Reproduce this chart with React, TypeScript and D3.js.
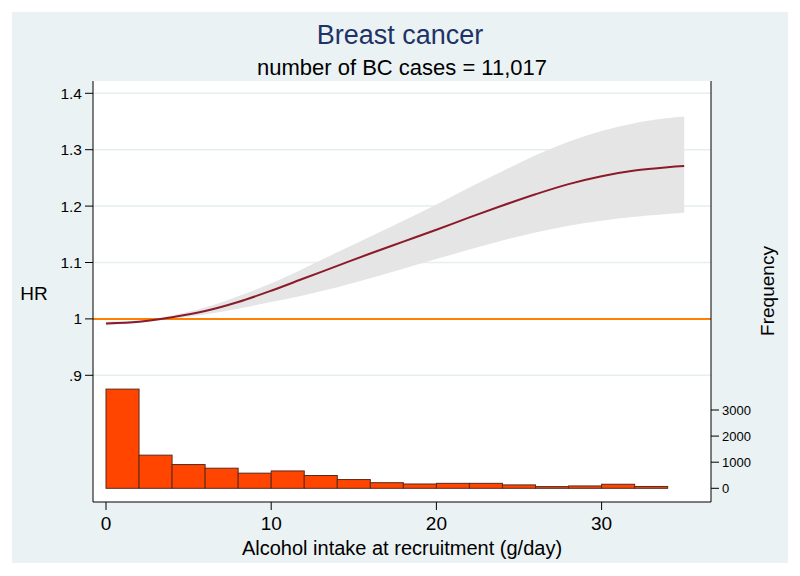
import React from "react";
import * as d3 from "d3";

// ---- data ----
const alcohol = [0, 2, 4, 6, 8, 10, 12, 14, 16, 18, 20, 22, 24, 26, 28, 30, 32, 34, 35];
const hr = [0.992, 0.995, 1.003, 1.014, 1.03, 1.05, 1.072, 1.094, 1.116, 1.137, 1.158, 1.18, 1.201, 1.221, 1.239, 1.253, 1.263, 1.269, 1.271];
const hrLower = [0.988, 0.993, 1.0, 1.008, 1.018, 1.03, 1.042, 1.056, 1.072, 1.089, 1.106, 1.123, 1.139, 1.153, 1.165, 1.174, 1.181, 1.186, 1.188];
const hrUpper = [0.995, 0.997, 1.006, 1.02, 1.04, 1.063, 1.09, 1.118, 1.146, 1.174, 1.203, 1.233, 1.262, 1.29, 1.314, 1.333, 1.347, 1.356, 1.359];

const binStarts = [0, 2, 4, 6, 8, 10, 12, 14, 16, 18, 20, 22, 24, 26, 28, 30, 32, 34];
const binCounts = [3800, 1270, 910, 770, 580, 665, 490, 335, 215, 165, 190, 190, 130, 65, 90, 155, 70, 0];
const binWidth = 2;

const xTicks = [0, 10, 20, 30];
const hrTicks = [0.9, 1.0, 1.1, 1.2, 1.3, 1.4];
const hrTickLabels = [".9", "1", "1.1", "1.2", "1.3", "1.4"];
const freqTicks = [0, 1000, 2000, 3000];

const titleText = "Breast cancer";
const subtitleText = "number of BC cases = 11,017";
const xTitle = "Alcohol intake at recruitment (g/day)";
const yTitle = "HR";
const y2Title = "Frequency";

export default function App() {
  const W = 800, H = 576;
  const plot = { left: 93, right: 711, top: 81, bottom: 502 };
  const font = "'Liberation Sans', Arial, sans-serif";

  const x = d3.scaleLinear().domain([0, 30]).range([106, 601.6]);
  const y = d3.scaleLinear().domain([0.9, 1.4]).range([375.3, 93.3]);
  const yf = d3.scaleLinear().domain([0, 3000]).range([488.3, 410]);

  const pts = alcohol.map((a, i) => ({ a, hr: hr[i], lo: hrLower[i], hi: hrUpper[i] }));
  const area = d3
    .area<any>()
    .x((d) => x(d.a))
    .y0((d) => y(d.lo))
    .y1((d) => y(d.hi))
    .curve(d3.curveCatmullRom.alpha(0.5));
  const line = d3
    .line<any>()
    .x((d) => x(d.a))
    .y((d) => y(d.hr))
    .curve(d3.curveCatmullRom.alpha(0.5));

  return (
    <svg
      width={W}
      height={H}
      style={{ position: "absolute", left: 0, top: 0, background: "#fff" }}
      fontFamily={font}
    >
      <rect x={12} y={12} width={776} height={551} fill="#eaf2f3" />
      <rect x={plot.left} y={plot.top} width={plot.right - plot.left} height={plot.bottom - plot.top} fill="#fff" />

      {/* grid */}
      {hrTicks.map((t) => (
        <line key={"g" + t} x1={plot.left} x2={plot.right} y1={y(t)} y2={y(t)} stroke="#e6eeef" strokeWidth={1.5} />
      ))}

      {/* CI band */}
      <path d={area(pts) || ""} fill="#e5e5e5" />

      {/* histogram */}
      {binStarts.map((b, i) => (
        <rect
          key={"b" + i}
          x={x(b)}
          y={yf(binCounts[i])}
          width={x(b + binWidth) - x(b)}
          height={yf(0) - yf(binCounts[i])}
          fill="#ff4500"
          stroke="#5a2a1c"
          strokeWidth={1}
        />
      ))}

      {/* reference line */}
      <line x1={plot.left} x2={plot.right} y1={y(1)} y2={y(1)} stroke="#ff8000" strokeWidth={2} />

      {/* HR curve */}
      <path d={line(pts) || ""} fill="none" stroke="#8b1a2a" strokeWidth={2} />

      {/* axes */}
      <line x1={plot.left} x2={plot.left} y1={plot.top} y2={plot.bottom} stroke="#000" strokeWidth={1} />
      <line x1={plot.right} x2={plot.right} y1={plot.top} y2={plot.bottom} stroke="#000" strokeWidth={1} />
      <line x1={plot.left} x2={plot.right} y1={plot.bottom} y2={plot.bottom} stroke="#000" strokeWidth={1} />

      {hrTicks.map((t, i) => (
        <g key={"yt" + t}>
          <line x1={plot.left - 8} x2={plot.left} y1={y(t)} y2={y(t)} stroke="#000" />
          <text x={plot.left - 11} y={y(t)} dy="0.35em" textAnchor="end" fontSize={15.5} fill="#000">
            {hrTickLabels[i]}
          </text>
        </g>
      ))}

      {freqTicks.map((t) => (
        <g key={"ft" + t}>
          <line x1={plot.right} x2={plot.right + 8} y1={yf(t)} y2={yf(t)} stroke="#000" />
          <text x={plot.right + 11} y={yf(t)} dy="0.35em" textAnchor="start" fontSize={13} fill="#000">
            {t}
          </text>
        </g>
      ))}

      {xTicks.map((t) => (
        <g key={"xt" + t}>
          <line x1={x(t)} x2={x(t)} y1={plot.bottom} y2={plot.bottom + 8} stroke="#000" />
          <text x={x(t)} y={530} textAnchor="middle" fontSize={19} fill="#000">
            {t}
          </text>
        </g>
      ))}

      {/* titles */}
      <text x={400} y={44} textAnchor="middle" fontSize={27} fill="#1f3366">
        {titleText}
      </text>
      <text x={402} y={75} textAnchor="middle" fontSize={22} fill="#000">
        {subtitleText}
      </text>
      <text x={402} y={555} textAnchor="middle" fontSize={20} fill="#000">
        {xTitle}
      </text>
      <text x={34} y={293} dy="0.35em" textAnchor="middle" fontSize={19} fill="#000">
        {yTitle}
      </text>
      <text
        transform={`translate(767,291) rotate(-90)`}
        dy="0.35em"
        textAnchor="middle"
        fontSize={19}
        fill="#000"
      >
        {y2Title}
      </text>
    </svg>
  );
}
